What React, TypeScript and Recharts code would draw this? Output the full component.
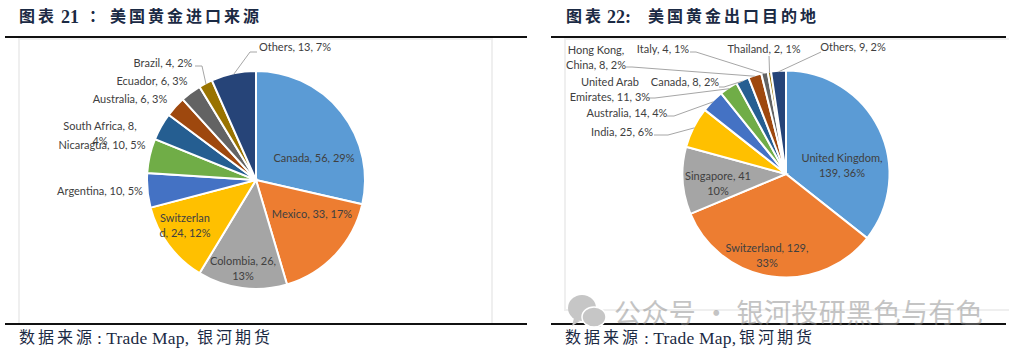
import React from 'react';
import { PieChart, Pie, Cell } from 'recharts';

// --- data ---
const importNames = ['Canada', 'Mexico', 'Colombia', 'Switzerland', 'Argentina', 'Nicaragua', 'South Africa', 'Australia', 'Ecuador', 'Brazil', 'Others'];
const importValues = [56, 33, 26, 24, 10, 10, 8, 6, 6, 4, 13];
const importLabels = [
  ['Canada, 56, 29%'],
  ['Mexico, 33, 17%'],
  ['Colombia, 26,', '13%'],
  ['Switzerlan', 'd, 24, 12%'],
  ['Argentina, 10, 5%'],
  ['Nicaragua, 10, 5%'],
  ['South Africa, 8,', '4%'],
  ['Australia, 6, 3%'],
  ['Ecuador, 6, 3%'],
  ['Brazil, 4, 2%'],
  ['Others, 13, 7%'],
];

const exportNames = ['United Kingdom', 'Switzerland', 'Singapore', 'India', 'Australia', 'United Arab Emirates', 'Canada', 'Hong Kong, China', 'Italy', 'Thailand', 'Others'];
const exportValues = [139, 129, 41, 25, 14, 11, 8, 8, 4, 2, 9];
const exportLabels = [
  ['United Kingdom,', '139, 36%'],
  ['Switzerland, 129,', '33%'],
  ['Singapore, 41', '10%'],
  ['India, 25, 6%'],
  ['Australia, 14, 4%'],
  ['United Arab', 'Emirates, 11, 3%'],
  ['Canada, 8, 2%'],
  ['Hong Kong,', 'China, 8, 2%'],
  ['Italy, 4, 1%'],
  ['Thailand, 2, 1%'],
  ['Others, 9, 2%'],
];

const COLORS = ['#5B9BD5', '#ED7D31', '#A5A5A5', '#FFC000', '#4472C4', '#70AD47', '#255E91', '#9E480E', '#636363', '#997300', '#264478'];

// --- label layout (page pixels): centre x, first line y, then where the leader line leaves the text ---
type Place = { x: number; y: number; leader?: number[][] };

const importPlaces: Place[] = [
  { x: 314, y: 158 },
  { x: 312, y: 214 },
  { x: 243, y: 261 },
  { x: 185, y: 218 },
  { x: 100, y: 191 },
  { x: 102, y: 145 },
  { x: 100, y: 126 },
  { x: 130, y: 99 },
  { x: 152, y: 81 },
  { x: 163, y: 63, leader: [[195, 66], [202, 66]] },
  { x: 295, y: 47, leader: [[257, 52], [250, 52]] },
];

const exportPlaces: Place[] = [
  { x: 842, y: 158 },
  { x: 767, y: 248 },
  { x: 718, y: 176 },
  { x: 622, y: 132, leader: [[654, 135], [668, 135]] },
  { x: 627, y: 113, leader: [[667, 116], [674, 116]] },
  { x: 610, y: 82, leader: [[649, 98], [655, 98]] },
  { x: 685, y: 82, leader: [[719, 87], [724, 87]] },
  { x: 596, y: 50, leader: [[626, 67], [632, 67]] },
  { x: 663, y: 49, leader: [[690, 52], [696, 52]] },
  { x: 764, y: 49, leader: [[769, 56]] },
  { x: 853, y: 47, leader: [[821, 52]] },
];

const RAD = Math.PI / 180;
const LINE_GAP = 14.5;

const makeLabel = (lines: string[][], places: Place[]) => (props: any) => {
  const { cx, cy, midAngle, outerRadius, index } = props;
  const place = places[index];
  const edgeX = cx + (outerRadius - 1) * Math.cos(-midAngle * RAD);
  const edgeY = cy + (outerRadius - 1) * Math.sin(-midAngle * RAD);
  const points = place.leader ? [...place.leader, [edgeX, edgeY]].map((p) => p.join(',')).join(' ') : null;
  return (
    <g key={index}>
      {points && <polyline points={points} fill="none" stroke="#A6A6A6" strokeWidth={1} />}
      <text textAnchor="middle" fontFamily="Lato, sans-serif" fontSize={11} fill="#404040">
        {lines[index].map((line, i) => (
          <tspan key={i} x={place.x} y={place.y + i * LINE_GAP} dy={4}>{line}</tspan>
        ))}
      </text>
    </g>
  );
};

const toRows = (names: string[], values: number[]) => names.map((name, i) => ({ name, value: values[i] }));

const GoldPie: React.FC<{ names: string[]; values: number[]; lines: string[][]; places: Place[]; cx: number; cy: number; r: number }> = ({ names, values, lines, places, cx, cy, r }) => (
  <div style={{ position: 'absolute', left: 0, top: 0 }}>
    <PieChart width={1012} height={353} margin={{ top: 0, right: 0, bottom: 0, left: 0 }}>
      <Pie
        data={toRows(names, values)}
        dataKey="value"
        nameKey="name"
        cx={cx}
        cy={cy}
        outerRadius={r}
        startAngle={90}
        endAngle={-270}
        stroke="#fff"
        strokeWidth={2}
        label={makeLabel(lines, places)}
        labelLine={false}
        isAnimationActive={false}
      >
        {names.map((name, i) => <Cell key={name} fill={COLORS[i]} />)}
      </Pie>
    </PieChart>
  </div>
);

const INK = '#1B2A44';

// one run of heading / footer text
const Run: React.FC<{ x: number; y: number; size?: number; bold?: boolean; gap?: number; children: React.ReactNode }> = ({ x, y, size = 16, bold, gap = 3, children }) => (
  <div style={{
    position: 'absolute', left: x, top: y, fontFamily: '"Liberation Serif", "Noto Sans CJK SC", serif', fontSize: size, lineHeight: '20px',
    fontWeight: bold ? 700 : 400, letterSpacing: gap, color: INK, whiteSpace: 'nowrap',
  }}>{children}</div>
);

const rule = (x: number, y: number, w: number) => (
  <div style={{ position: 'absolute', left: x, top: y, width: w, height: 1.5, background: '#111' }} />
);

export default function App() {
  return (
    <div style={{ position: 'absolute', left: 0, top: 0, width: 1012, height: 353, background: '#fff', overflow: 'hidden' }}>
      <div style={{ position: 'absolute', left: 18, top: 38, width: 475, height: 285, border: '2px solid #EFEFEF', borderBottom: 'none', boxSizing: 'border-box' }} />
      <div style={{ position: 'absolute', left: 564, top: 38, width: 445, height: 273, border: '2px solid #EFEFEF', borderRight: 'none', boxSizing: 'border-box' }} />

      <GoldPie names={importNames} values={importValues} lines={importLabels} places={importPlaces} cx={256} cy={180} r={109} />
      <GoldPie names={exportNames} values={exportValues} lines={exportLabels} places={exportPlaces} cx={786} cy={174} r={103.5} />

      <Run x={19} y={7} bold>图表</Run>
      <Run x={61} y={7} size={18} bold gap={0}>21</Run>
      <Run x={89} y={7} bold gap={0}>：</Run>
      <Run x={110} y={7} bold>美国黄金进口来源</Run>

      <Run x={566} y={7} bold>图表</Run>
      <Run x={607} y={7} size={18} bold gap={0}>22:</Run>
      <Run x={648} y={7} bold>美国黄金出口目的地</Run>

      {rule(5, 36, 522)}
      {rule(551, 36, 455)}
      {rule(5, 323, 522)}
      {rule(551, 323, 455)}

      <Run x={19} y={328}>数据来源</Run>
      <Run x={97} y={328} size={17.5} gap={0.2}>: Trade Map,</Run>
      <Run x={197} y={328}>银河期货</Run>

      <Run x={565} y={328}>数据来源</Run>
      <Run x={644} y={328} size={17.5} gap={0.2}>: Trade Map,</Run>
      <Run x={739} y={328}>银河期货</Run>

      {/* watermark */}
      <svg width={42} height={36} style={{ position: 'absolute', left: 566, top: 294 }}>
        <path d="M8 24 L6 32 L14 27 Z" fill="#C6C6C6" />
        <ellipse cx={16} cy={14} rx={14} ry={13} fill="#C6C6C6" />
        <path d="M32 28 L35 33 L26 30 Z" fill="#C6C6C6" />
        <ellipse cx={28} cy={23} rx={12} ry={10} fill="#C6C6C6" stroke="#fff" strokeWidth={1.5} />
      </svg>
      <div style={{ position: 'absolute', left: 614, top: 295, fontFamily: '"Noto Sans CJK SC", sans-serif', fontSize: 27, lineHeight: '34px', letterSpacing: 0.4, color: '#8A8A8A', opacity: 0.5, whiteSpace: 'nowrap' }}>
        公众号 · 银河投研黑色与有色
      </div>
    </div>
  );
}
